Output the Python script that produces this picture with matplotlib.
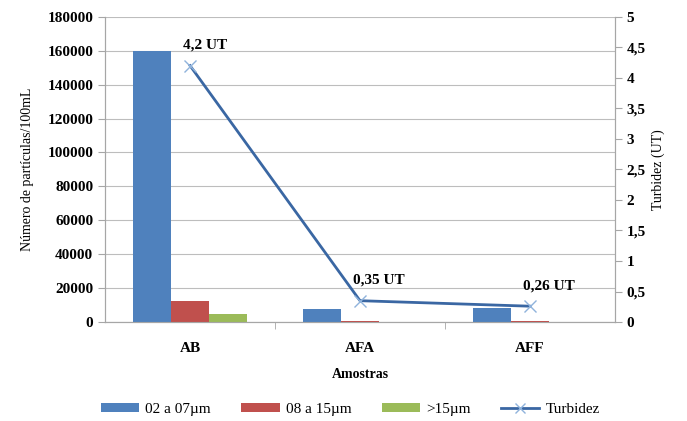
import numpy as np
import matplotlib.pyplot as plt
from matplotlib.ticker import FuncFormatter

plt.rcParams['font.family'] = ['Liberation Serif', 'DejaVu Serif']

# data
amostras = ['AB', 'AFA', 'AFF']
p02_07 = [160000, 7700, 8200]
p08_15 = [12300, 500, 500]
p15 = [4600, 0, 0]
turbidez = [4.2, 0.35, 0.26]
turb_labels = ['4,2 UT', '0,35 UT', '0,26 UT']

fig = plt.figure(figsize=(6.87, 4.21), dpi=100)
ax = fig.add_axes([0.153, 0.235, 0.742, 0.725])
ax2 = ax.twinx()

x = np.arange(len(amostras))
w = 0.224
b1 = ax.bar(x - w, p02_07, w, color='#4F81BD', label='02 a 07µm', zorder=3)
b2 = ax.bar(x, p08_15, w, color='#C0504D', label='08 a 15µm', zorder=3)
b3 = ax.bar(x + w, p15, w, color='#9BBB59', label='>15µm', zorder=3)

ax.set_xlim(-0.5, 2.5)
ax.set_ylim(0, 180000)
ax.set_yticks(np.arange(0, 180001, 20000))
ax.grid(axis='y', color='#bdbdbd', linewidth=0.8, zorder=0)
ax.set_axisbelow(True)
ax.set_xticks(x)
ax.set_xticklabels(amostras, fontweight='bold', fontsize=11)
ax.set_xticks([0.5, 1.5], minor=True)
ax.tick_params(axis='x', which='major', length=0, pad=14)
ax.tick_params(axis='x', which='minor', length=5, color='#a6a6a6')
ax.tick_params(axis='y', length=5, color='#a6a6a6', labelsize=11)
for t in ax.get_yticklabels():
    t.set_fontweight('bold')
ax.set_ylabel('Número de partículas/100mL', fontsize=10, labelpad=10)
ax.set_xlabel('Amostras', fontsize=10, fontweight='bold', labelpad=10)

for s in ['top']:
    ax.spines[s].set_visible(False)
    ax2.spines[s].set_visible(False)
for s in ['left', 'bottom', 'right']:
    ax.spines[s].set_color('#a6a6a6')
    ax2.spines[s].set_color('#a6a6a6')

line, = ax2.plot(x, turbidez, color='#3A67A3', linewidth=2, marker='x',
                 markersize=9, markeredgecolor='#8FB3DC', markeredgewidth=1,
                 label='Turbidez', zorder=4)
ax2.set_ylim(0, 5)
ax2.set_yticks(np.arange(0, 5.01, 0.5))
ax2.yaxis.set_major_formatter(FuncFormatter(lambda v, p: ('%g' % v).replace('.', ',')))
ax2.tick_params(axis='y', length=5, color='#a6a6a6', labelsize=11)
for t in ax2.get_yticklabels():
    t.set_fontweight('bold')
ax2.set_ylabel('Turbidez (UT)', fontsize=10)

for xi, yi, lab in zip(x, turbidez, turb_labels):
    ax2.annotate(lab, (xi, yi), xytext=(-5, 10), textcoords='offset points',
                 fontsize=11, fontweight='bold', ha='left', va='bottom')

handles = [b1, b2, b3, line]
fig.legend(handles, [h.get_label() for h in handles], loc='center',
           bbox_to_anchor=(0.51, 0.028), ncol=4, frameon=False, fontsize=11,
           handlelength=2.5, handleheight=0.5, columnspacing=2,
           handletextpad=0.4, markerscale=0.8)

fig.savefig('out.png', dpi=100)
